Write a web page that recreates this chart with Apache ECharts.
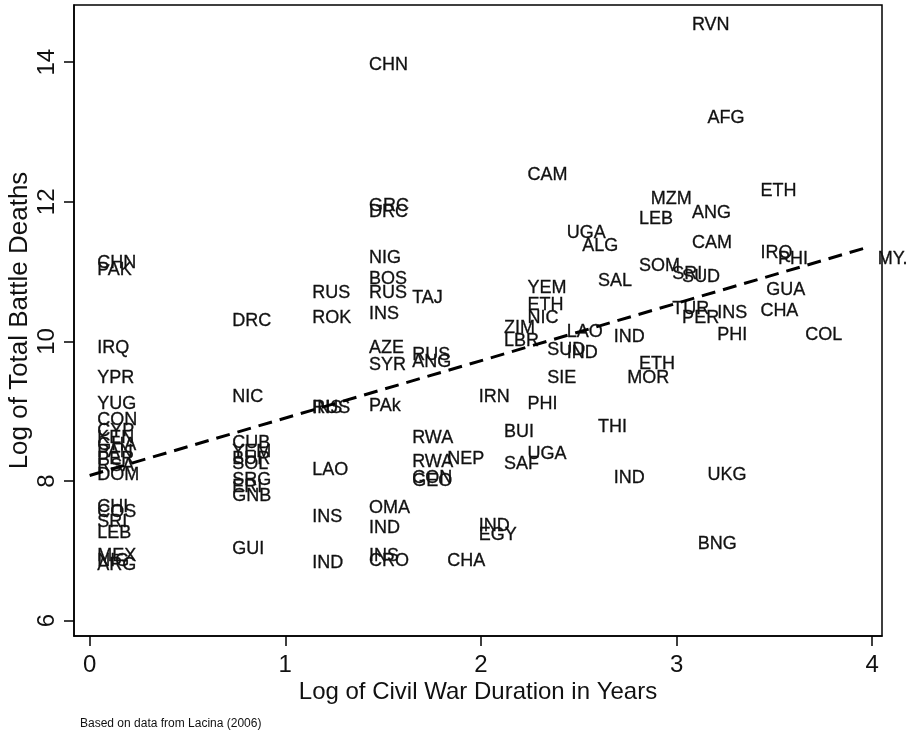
<!DOCTYPE html>
<html>
<head>
<meta charset="utf-8">
<script src="https://cdn.jsdelivr.net/npm/echarts@6/dist/echarts.min.js"></script>
<style>
  html, body { margin: 0; padding: 0; background: #fff; }
  #chart { width: 922px; height: 738px; }
</style>
</head>
<body>
<div id="chart"></div>
<script>
// country codes, log of war duration (years), log of battle deaths
const codes = [
  'CHN', 'PAK', 'IRQ', 'YPR', 'YUG', 'CON', 'CYP', 'KEN', 'GHA', 'PAN', 'PER', 'RSA', 'DOM', 'CHI', 'COS', 'SRI', 'LEB', 'MEX', 'NIG', 'ARG',
  'DRC', 'NIC', 'CUB', 'YEM', 'BUR', 'SOL', 'SRG', 'ERI', 'GNB', 'GUI',
  'RUS', 'ROK', 'RUS', 'INS', 'LAO', 'INS', 'IND',
  'CHN', 'GRC', 'DRC', 'NIG', 'BOS', 'RUS', 'INS', 'AZE', 'SYR', 'PAk', 'OMA', 'IND', 'INS', 'CRO',
  'TAJ', 'RUS', 'ANG', 'RWA', 'RWA', 'CON', 'GEO',
  'NEP', 'CHA',
  'IRN', 'IND', 'EGY',
  'ZIM', 'LBR', 'BUI', 'SAF',
  'CAM', 'YEM', 'ETH', 'NIC', 'PHI', 'UGA',
  'SUD', 'SIE',
  'UGA', 'LAO', 'IND',
  'ALG',
  'SAL', 'THI',
  'IND', 'IND',
  'MOR',
  'LEB', 'SOM', 'ETH',
  'MZM',
  'SRI', 'TUR',
  'SUD', 'PER',
  'RVN', 'ANG', 'CAM',
  'BNG',
  'AFG', 'UKG',
  'INS', 'PHI',
  'ETH', 'IRQ', 'CHA',
  'GUA',
  'PHI',
  'COL',
  'MY.'
];
const logDuration = [
  0, 0, 0, 0, 0, 0, 0, 0, 0, 0, 0, 0, 0, 0, 0, 0, 0, 0, 0, 0,
  0.69, 0.69, 0.69, 0.69, 0.69, 0.69, 0.69, 0.69, 0.69, 0.69,
  1.10, 1.10, 1.10, 1.10, 1.10, 1.10, 1.10,
  1.39, 1.39, 1.39, 1.39, 1.39, 1.39, 1.39, 1.39, 1.39, 1.39, 1.39, 1.39, 1.39, 1.39,
  1.61, 1.61, 1.61, 1.61, 1.61, 1.61, 1.61,
  1.79, 1.79,
  1.95, 1.95, 1.95,
  2.08, 2.08, 2.08, 2.08,
  2.20, 2.20, 2.20, 2.20, 2.20, 2.20,
  2.30, 2.30,
  2.40, 2.40, 2.40,
  2.48,
  2.56, 2.56,
  2.64, 2.64,
  2.71,
  2.77, 2.77, 2.77,
  2.83,
  2.94, 2.94,
  2.99, 2.99,
  3.04, 3.04, 3.04,
  3.07,
  3.12, 3.12,
  3.17, 3.17,
  3.39, 3.39, 3.39,
  3.42,
  3.48,
  3.62,
  3.99
];
const logDeaths = [
  11.12, 11.02, 9.90, 9.48, 9.11, 8.87, 8.71, 8.61, 8.51, 8.41, 8.31, 8.22, 8.08, 7.63, 7.56, 7.41, 7.25, 6.92, 6.86, 6.79,
  10.29, 9.20, 8.54, 8.41, 8.32, 8.25, 8.02, 7.91, 7.79, 7.02,
  10.69, 10.34, 9.05, 9.05, 8.16, 7.48, 6.82,
  13.96, 11.94, 11.85, 11.19, 10.90, 10.70, 10.39, 9.90, 9.66, 9.08, 7.61, 7.33, 6.93, 6.85,
  10.62, 9.80, 9.71, 8.61, 8.27, 8.04, 8.00,
  8.32, 6.86,
  9.20, 7.36, 7.22,
  10.19, 10.01, 8.70, 8.25,
  12.39, 10.77, 10.52, 10.34, 9.10, 8.39,
  9.87, 9.47,
  11.56, 10.13, 9.83,
  11.36,
  10.87, 8.77,
  10.07, 8.05,
  9.47,
  11.75, 11.08, 9.68,
  12.04,
  10.97, 10.47,
  10.92, 10.33,
  14.54, 11.84, 11.41,
  7.10,
  13.20, 8.09,
  10.40, 10.09,
  12.16, 11.26, 10.43,
  10.73,
  11.18,
  10.09,
  11.18
];

// fitted line end points
const fitX = [0, 3.99];
const fitY = [8.08, 11.36];

const xTicks = [0, 1, 2, 3, 4];
const yTicks = [6, 8, 10, 12, 14];

const ink = '#000';
const font = '"Liberation Sans", Arial, Helvetica, sans-serif';

const myChart = echarts.init(document.getElementById('chart'));
const option = {
  backgroundColor: '#fff',
  animation: false,
  grid: {
    show: true,
    borderColor: ink,
    borderWidth: 1.5,
    left: 74,
    top: 5,
    width: 808,
    height: 631,
    outerBoundsMode: 'none',
    containLabel: false,
  },
  graphic: [
    {
      type: 'text',
      left: 80,
      top: 718,
      style: {
        text: 'Based on data from Lacina (2006)',
        fontSize: 12,
        fontFamily: '"Liberation Sans Narrow", "Liberation Sans", Arial, sans-serif',
        fill: '#111',
      },
    },
  ],
  xAxis: {
    type: 'value',
    min: -0.08,
    max: 4.05,
    name: 'Log of Civil War Duration in Years',
    nameLocation: 'middle',
    nameGap: 44,
    nameMoveOverlap: false,
    nameTextStyle: {fontSize: 24, color: '#111', fontFamily: font},
    axisLine: {show: true, onZero: false, lineStyle: {color: ink, width: 1.5}},
    axisTick: {show: true, length: 10, customValues: xTicks, lineStyle: {color: ink, width: 1.5}},
    axisLabel: {customValues: xTicks, fontSize: 24, color: '#111', margin: 17, fontFamily: font},
    splitLine: {show: false},
  },
  yAxis: {
    type: 'value',
    min: 5.78,
    max: 14.82,
    name: 'Log of Total Battle Deaths',
    nameLocation: 'middle',
    nameRotate: 90,
    nameGap: 41,
    nameMoveOverlap: false,
    nameTextStyle: {fontSize: 26, color: '#111', fontFamily: font},
    axisLine: {show: true, onZero: false, lineStyle: {color: ink, width: 1.5}},
    axisTick: {show: true, length: 10, customValues: yTicks, lineStyle: {color: ink, width: 1.5}},
    axisLabel: {customValues: yTicks, rotate: 90, fontSize: 24, color: '#111', margin: 15, fontFamily: font},
    splitLine: {show: false},
  },
  series: [
    {
      type: 'scatter',
      symbolSize: 1,
      itemStyle: {color: 'rgba(0,0,0,0)', opacity: 1},
      data: codes.map((c, i) => [logDuration[i], logDeaths[i], c]),
      label: {
        show: true,
        position: 'right',
        distance: 7,
        formatter: (p) => p.value[2],
        fontSize: 18,
        color: '#111',
        opacity: 1,
        fontFamily: font,
        textBorderColor: '#111',
        textBorderWidth: 0.3,
      },
      silent: true,
    },
    {
      type: 'line',
      symbol: 'none',
      data: fitX.map((x, i) => [x, fitY[i]]),
      lineStyle: {color: ink, width: 3, type: [14, 8]},
      silent: true,
    },
  ],
};
myChart.setOption(option);
</script>
</body>
</html>
